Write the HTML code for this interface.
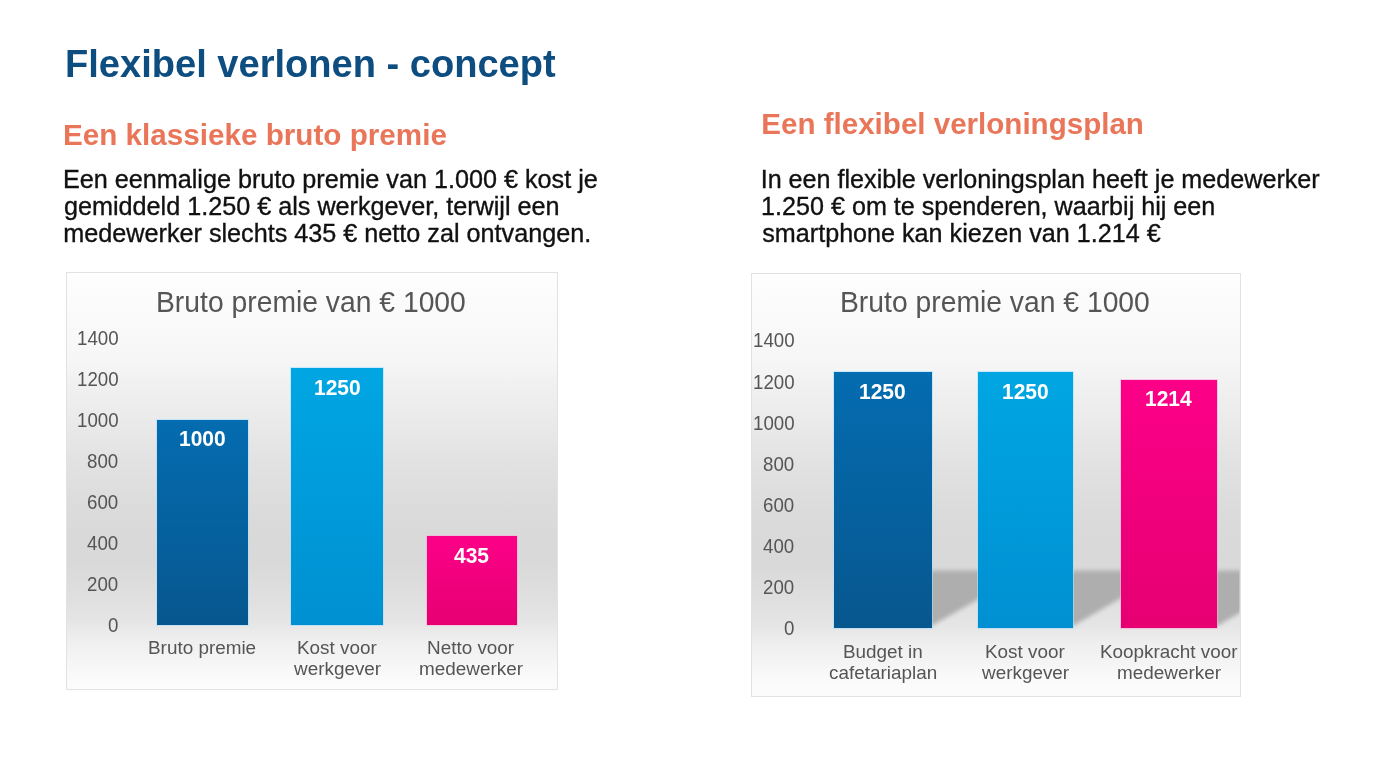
<!DOCTYPE html>
<html><head><meta charset="utf-8"><style>
html,body{margin:0;padding:0;background:#ffffff;}
#root{position:relative;width:1400px;height:761px;overflow:hidden;background:#ffffff;font-family:"Liberation Sans",sans-serif;filter:blur(0.45px);}
.t{position:absolute;white-space:nowrap;transform-origin:0 0;}
.r{-webkit-text-stroke:0.35px currentColor;}
</style></head><body><div id="root">
<div class="t" style="left:64.55px;top:44.30px;font-size:39.21px;line-height:39.21px;font-weight:700;color:#0e4d80;transform:scaleX(0.9709)">Flexibel verlonen - concept</div>
<div class="t" style="left:63.02px;top:119.50px;font-size:29.65px;line-height:29.65px;font-weight:700;color:#ea765a;transform:scaleX(1.0000)">Een klassieke bruto premie</div>
<div class="t" style="left:761.32px;top:108.98px;font-size:29.55px;line-height:29.55px;font-weight:700;color:#ea765a;transform:scaleX(1.0000)">Een flexibel verloningsplan</div>
<div class="t r" style="left:62.93px;top:167.26px;font-size:25.20px;line-height:25.20px;font-weight:400;color:#111111;transform:scaleX(1.0000)">Een eenmalige bruto premie van 1.000 € kost je</div>
<div class="t r" style="left:63.94px;top:194.16px;font-size:25.20px;line-height:25.20px;font-weight:400;color:#111111;transform:scaleX(1.0000)">gemiddeld 1.250 € als werkgever, terwijl een</div>
<div class="t r" style="left:63.33px;top:221.06px;font-size:25.20px;line-height:25.20px;font-weight:400;color:#111111;transform:scaleX(1.0000)">medewerker slechts 435 € netto zal ontvangen.</div>
<div class="t r" style="left:760.68px;top:167.01px;font-size:25.15px;line-height:25.15px;font-weight:400;color:#111111;transform:scaleX(1.0000)">In een flexible verloningsplan heeft je medewerker</div>
<div class="t r" style="left:761.08px;top:193.91px;font-size:25.15px;line-height:25.15px;font-weight:400;color:#111111;transform:scaleX(1.0000)">1.250 € om te spenderen, waarbij hij een</div>
<div class="t r" style="left:762.30px;top:220.81px;font-size:25.15px;line-height:25.15px;font-weight:400;color:#111111;transform:scaleX(1.0000)">smartphone kan kiezen van 1.214 €</div>
<div style="position:absolute;left:65.50px;top:272.00px;width:492.00px;height:417.50px;background:linear-gradient(to bottom,rgb(254,254,254) 0.0px,rgb(251,251,251) 28.0px,rgb(248,248,248) 68.0px,rgb(246,246,246) 88.0px,rgb(241,241,241) 108.0px,rgb(236,236,236) 138.0px,rgb(230,230,230) 168.0px,rgb(226,226,226) 188.0px,rgb(219,219,219) 238.0px,rgb(217,217,217) 268.0px,rgb(217,217,217) 288.0px,rgb(222,222,222) 318.0px,rgb(224,224,224) 328.0px,rgb(229,229,229) 348.0px,rgb(239,239,239) 368.0px,rgb(245,245,245) 388.0px,rgb(250,250,250) 403.0px,rgb(252,252,252) 418.0px);border:1px solid #e2e2e2;box-sizing:border-box"></div>
<div class="t" style="left:155.68px;top:287.72px;font-size:29.15px;line-height:29.15px;font-weight:400;color:#555555;transform:scaleX(0.9709)">Bruto premie van € 1000</div>
<div class="t" style="left:107.83px;top:616.32px;font-size:19.45px;line-height:19.45px;font-weight:400;color:#555555;transform:scaleX(0.9615)">0</div>
<div class="t" style="left:87.03px;top:575.25px;font-size:19.45px;line-height:19.45px;font-weight:400;color:#555555;transform:scaleX(0.9615)">200</div>
<div class="t" style="left:87.03px;top:534.18px;font-size:19.45px;line-height:19.45px;font-weight:400;color:#555555;transform:scaleX(0.9615)">400</div>
<div class="t" style="left:87.03px;top:493.11px;font-size:19.45px;line-height:19.45px;font-weight:400;color:#555555;transform:scaleX(0.9615)">600</div>
<div class="t" style="left:87.03px;top:452.04px;font-size:19.45px;line-height:19.45px;font-weight:400;color:#555555;transform:scaleX(0.9615)">800</div>
<div class="t" style="left:76.63px;top:410.97px;font-size:19.45px;line-height:19.45px;font-weight:400;color:#555555;transform:scaleX(0.9615)">1000</div>
<div class="t" style="left:76.63px;top:369.90px;font-size:19.45px;line-height:19.45px;font-weight:400;color:#555555;transform:scaleX(0.9615)">1200</div>
<div class="t" style="left:76.63px;top:328.83px;font-size:19.45px;line-height:19.45px;font-weight:400;color:#555555;transform:scaleX(0.9615)">1400</div>
<div style="position:absolute;left:157.00px;top:419.80px;width:90.50px;height:205.70px;background:linear-gradient(to bottom,#046cb0,#07578f);box-shadow:0 0 0 1px rgba(170,225,255,0.6)"></div>
<div class="t" style="left:178.66px;top:428.35px;font-size:22.26px;line-height:22.26px;font-weight:700;color:#ffffff;transform:scaleX(0.9434)">1000</div>
<div style="position:absolute;left:291.30px;top:368.38px;width:91.70px;height:257.12px;background:linear-gradient(to bottom,#00a6e2,#0090d2);box-shadow:0 0 0 1px rgba(170,225,255,0.6)"></div>
<div class="t" style="left:313.56px;top:376.93px;font-size:22.26px;line-height:22.26px;font-weight:700;color:#ffffff;transform:scaleX(0.9434)">1250</div>
<div style="position:absolute;left:426.50px;top:536.02px;width:90.00px;height:89.48px;background:linear-gradient(to bottom,#fc0088,#e60072);box-shadow:0 0 0 1px rgba(255,170,220,0.55)"></div>
<div class="t" style="left:454.11px;top:544.57px;font-size:22.26px;line-height:22.26px;font-weight:700;color:#ffffff;transform:scaleX(0.9434)">435</div>
<div class="t" style="left:147.80px;top:637.68px;font-size:19.28px;line-height:19.28px;font-weight:400;color:#555555;transform:scaleX(0.9804)">Bruto premie</div>
<div class="t" style="left:296.61px;top:637.68px;font-size:19.28px;line-height:19.28px;font-weight:400;color:#555555;transform:scaleX(0.9804)">Kost voor</div>
<div class="t" style="left:293.73px;top:658.88px;font-size:19.28px;line-height:19.28px;font-weight:400;color:#555555;transform:scaleX(0.9804)">werkgever</div>
<div class="t" style="left:427.29px;top:637.68px;font-size:19.28px;line-height:19.28px;font-weight:400;color:#555555;transform:scaleX(0.9804)">Netto voor</div>
<div class="t" style="left:419.04px;top:658.88px;font-size:19.28px;line-height:19.28px;font-weight:400;color:#555555;transform:scaleX(0.9804)">medewerker</div>
<div style="position:absolute;left:751.00px;top:272.50px;width:490.00px;height:424.50px;background:linear-gradient(to bottom,rgb(254,254,254) -0.5px,rgb(251,251,251) 27.8px,rgb(248,248,248) 68.2px,rgb(246,246,246) 88.4px,rgb(241,241,241) 108.6px,rgb(236,236,236) 138.8px,rgb(230,230,230) 169.1px,rgb(226,226,226) 189.3px,rgb(219,219,219) 239.8px,rgb(217,217,217) 270.1px,rgb(217,217,217) 290.3px,rgb(222,222,222) 320.3px,rgb(224,224,224) 330.3px,rgb(229,229,229) 350.3px,rgb(239,239,239) 370.3px,rgb(245,245,245) 390.3px,rgb(250,250,250) 405.3px,rgb(252,252,252) 420.3px);border:1px solid #e2e2e2;box-sizing:border-box"></div>
<div class="t" style="left:839.78px;top:287.72px;font-size:29.15px;line-height:29.15px;font-weight:400;color:#555555;transform:scaleX(0.9709)">Bruto premie van € 1000</div>
<div class="t" style="left:783.93px;top:619.12px;font-size:19.45px;line-height:19.45px;font-weight:400;color:#555555;transform:scaleX(0.9615)">0</div>
<div class="t" style="left:763.13px;top:578.02px;font-size:19.45px;line-height:19.45px;font-weight:400;color:#555555;transform:scaleX(0.9615)">200</div>
<div class="t" style="left:763.13px;top:536.92px;font-size:19.45px;line-height:19.45px;font-weight:400;color:#555555;transform:scaleX(0.9615)">400</div>
<div class="t" style="left:763.13px;top:495.82px;font-size:19.45px;line-height:19.45px;font-weight:400;color:#555555;transform:scaleX(0.9615)">600</div>
<div class="t" style="left:763.13px;top:454.72px;font-size:19.45px;line-height:19.45px;font-weight:400;color:#555555;transform:scaleX(0.9615)">800</div>
<div class="t" style="left:752.73px;top:413.62px;font-size:19.45px;line-height:19.45px;font-weight:400;color:#555555;transform:scaleX(0.9615)">1000</div>
<div class="t" style="left:752.73px;top:372.52px;font-size:19.45px;line-height:19.45px;font-weight:400;color:#555555;transform:scaleX(0.9615)">1200</div>
<div class="t" style="left:752.73px;top:331.42px;font-size:19.45px;line-height:19.45px;font-weight:400;color:#555555;transform:scaleX(0.9615)">1400</div>
<svg style="position:absolute;left:0;top:0" width="1400" height="761"><defs><filter id="sb" x="-20%" y="-20%" width="140%" height="140%"><feGaussianBlur stdDeviation="2"/></filter><clipPath id="sc"><rect x="752.0" y="0" width="487.5" height="761"/></clipPath></defs><g clip-path="url(#sc)"><g fill="#aeaeae" filter="url(#sb)"><polygon points="834.0,625.8 931.5,625.8 1029.0,570.5 931.5,570.5" /><polygon points="978.0,625.8 1073.3,625.8 1168.6,570.5 1073.3,570.5" /><polygon points="1121.3,625.8 1217.4,625.8 1313.5,570.5 1217.4,570.5" /></g></g></svg>
<div style="position:absolute;left:834.00px;top:372.26px;width:97.50px;height:256.04px;background:linear-gradient(to bottom,#046cb0,#07578f);box-shadow:0 0 0 1px rgba(170,225,255,0.6)"></div>
<div class="t" style="left:859.16px;top:380.82px;font-size:22.26px;line-height:22.26px;font-weight:700;color:#ffffff;transform:scaleX(0.9434)">1250</div>
<div style="position:absolute;left:978.00px;top:372.26px;width:95.30px;height:256.04px;background:linear-gradient(to bottom,#00a6e2,#0090d2);box-shadow:0 0 0 1px rgba(170,225,255,0.6)"></div>
<div class="t" style="left:1002.06px;top:380.82px;font-size:22.26px;line-height:22.26px;font-weight:700;color:#ffffff;transform:scaleX(0.9434)">1250</div>
<div style="position:absolute;left:1121.30px;top:379.64px;width:96.10px;height:248.66px;background:linear-gradient(to bottom,#fc0088,#e60072);box-shadow:0 0 0 1px rgba(255,170,220,0.55)"></div>
<div class="t" style="left:1145.39px;top:388.19px;font-size:22.26px;line-height:22.26px;font-weight:700;color:#ffffff;transform:scaleX(0.9434)">1214</div>
<div class="t" style="left:842.66px;top:641.68px;font-size:19.28px;line-height:19.28px;font-weight:400;color:#555555;transform:scaleX(0.9804)">Budget in</div>
<div class="t" style="left:828.85px;top:662.88px;font-size:19.28px;line-height:19.28px;font-weight:400;color:#555555;transform:scaleX(0.9804)">cafetariaplan</div>
<div class="t" style="left:985.11px;top:641.68px;font-size:19.28px;line-height:19.28px;font-weight:400;color:#555555;transform:scaleX(0.9804)">Kost voor</div>
<div class="t" style="left:982.23px;top:662.88px;font-size:19.28px;line-height:19.28px;font-weight:400;color:#555555;transform:scaleX(0.9804)">werkgever</div>
<div class="t" style="left:1099.92px;top:641.68px;font-size:19.28px;line-height:19.28px;font-weight:400;color:#555555;transform:scaleX(0.9804)">Koopkracht voor</div>
<div class="t" style="left:1116.89px;top:662.88px;font-size:19.28px;line-height:19.28px;font-weight:400;color:#555555;transform:scaleX(0.9804)">medewerker</div>
</div></body></html>
